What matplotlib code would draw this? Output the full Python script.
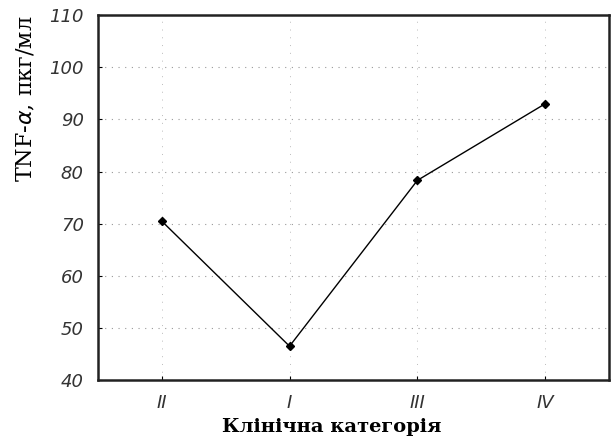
import matplotlib.pyplot as plt

categories = ["II", "I", "III", "IV"]
tnf_values = [70.5, 46.5, 78.3, 93.0]
y_ticks = [40, 50, 60, 70, 80, 90, 100, 110]


def main() -> None:
    fig = plt.figure(figsize=(6.11, 4.43), dpi=100)
    fig.patch.set_facecolor("white")
    ax = fig.add_axes([0.160, 0.142, 0.837, 0.824])

    xs = list(range(1, len(categories) + 1))
    ax.plot(xs, tnf_values, color="black", linewidth=1.0, marker="D", markersize=4.5)

    ax.set_xlim(0.5, len(categories) + 0.5)
    ax.set_ylim(40, 110)
    ax.set_xticks(xs)
    ax.set_xticklabels(categories)
    ax.set_yticks(y_ticks)

    for lbl in ax.get_xticklabels() + ax.get_yticklabels():
        lbl.set_fontfamily("DejaVu Sans")
        lbl.set_fontstyle("italic")
        lbl.set_fontsize(13)
        lbl.set_color("#333333")

    ax.yaxis.grid(True, linestyle=(0, (1, 5)), linewidth=0.8, color="#999999")
    ax.xaxis.grid(True, linestyle=(0, (1, 7)), linewidth=0.7, color="#bbbbbb")
    ax.set_axisbelow(True)
    ax.tick_params(axis="both", length=3, direction="in", pad=10)
    for s in ax.spines.values():
        s.set_linewidth(1.8)
        s.set_color("#222222")

    ax.set_ylabel("TNF-$\\alpha$, пкг/мл", fontfamily="DejaVu Serif",
                  fontsize=16)
    ax.yaxis.set_label_coords(-0.117, 0.77)
    ax.set_xlabel("Клінічна категорія", fontfamily="DejaVu Serif",
                  fontweight="bold", fontsize=14)
    ax.xaxis.set_label_coords(0.458, -0.105)

    fig.savefig("out.png", dpi=100, facecolor="white")


if __name__ == "__main__":
    main()
